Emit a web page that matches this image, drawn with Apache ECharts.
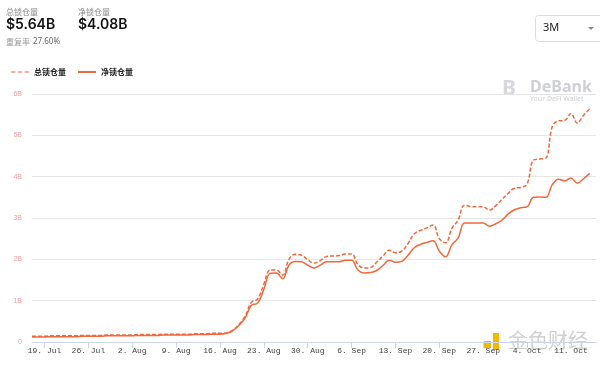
<!DOCTYPE html>
<html><head><meta charset="utf-8">
<script src="https://cdn.jsdelivr.net/npm/echarts@6/dist/echarts.min.js"></script>
<style>html,body{margin:0;padding:0;background:#fff}#c{width:600px;height:365px}</style>
</head><body><div id="c"></div>
<script>
// Dates: 17 Jul .. 15 Oct (last category is padding, no value)
var dates = ["17. Jul","18. Jul","19. Jul","20. Jul","21. Jul","22. Jul","23. Jul","24. Jul","25. Jul","26. Jul","27. Jul","28. Jul","29. Jul","30. Jul","31. Jul",
"1. Aug","2. Aug","3. Aug","4. Aug","5. Aug","6. Aug","7. Aug","8. Aug","9. Aug","10. Aug","11. Aug","12. Aug","13. Aug","14. Aug","15. Aug","16. Aug","17. Aug","18. Aug","19. Aug","20. Aug","21. Aug","22. Aug","23. Aug","24. Aug","25. Aug","26. Aug","27. Aug","28. Aug","29. Aug","30. Aug","31. Aug",
"1. Sep","2. Sep","3. Sep","4. Sep","5. Sep","6. Sep","7. Sep","8. Sep","9. Sep","10. Sep","11. Sep","12. Sep","13. Sep","14. Sep","15. Sep","16. Sep","17. Sep","18. Sep","19. Sep","20. Sep","21. Sep","22. Sep","23. Sep","24. Sep","25. Sep","26. Sep","27. Sep","28. Sep","29. Sep","30. Sep",
"1. Oct","2. Oct","3. Oct","4. Oct","5. Oct","6. Oct","7. Oct","8. Oct","9. Oct","10. Oct","11. Oct","12. Oct","13. Oct","14. Oct","15. Oct"];
// Total locked (B), dashed
var totalLocked = [0.14,0.14,0.14,0.15,0.15,0.15,0.15,0.15,0.16,0.16,0.16,0.16,0.17,0.17,0.17,
0.17,0.17,0.18,0.18,0.18,0.18,0.19,0.19,0.19,0.19,0.19,0.20,0.20,0.20,0.21,0.21,0.22,0.28,0.42,0.62,0.96,1.04,1.40,1.74,1.74,1.62,2.00,2.12,2.10,1.99,1.91,
1.97,2.07,2.08,2.09,2.13,2.13,1.88,1.79,1.80,1.93,2.08,2.22,2.16,2.20,2.38,2.62,2.70,2.76,2.83,2.50,2.40,2.75,2.95,3.31,3.28,3.27,3.27,3.19,3.30,3.45,
3.60,3.72,3.74,3.82,4.40,4.43,4.45,5.20,5.35,5.36,5.53,5.30,5.48,5.64,null];
// Net locked (B), solid
var netLocked = [0.12,0.12,0.12,0.13,0.13,0.13,0.13,0.13,0.14,0.14,0.14,0.14,0.15,0.15,0.15,
0.15,0.15,0.16,0.16,0.16,0.16,0.17,0.17,0.17,0.17,0.17,0.18,0.18,0.18,0.19,0.19,0.21,0.27,0.40,0.58,0.89,0.94,1.28,1.66,1.67,1.53,1.86,1.95,1.94,1.86,1.79,
1.86,1.94,1.94,1.94,1.98,1.98,1.74,1.67,1.68,1.73,1.85,1.98,1.93,1.95,2.10,2.28,2.36,2.41,2.45,2.20,2.06,2.35,2.52,2.88,2.88,2.88,2.88,2.80,2.86,2.95,
3.10,3.20,3.25,3.27,3.50,3.51,3.50,3.80,3.94,3.90,3.97,3.84,3.95,4.08,null];
var yTicks = ["0","1B","2B","3B","4B","5B","6B"];
var seriesNames = ["总锁仓量","净锁仓量"];

var C = '#f0683c';
var chart = echarts.init(document.getElementById('c'));
chart.setOption({
  animation:false,
  grid:{left:32,right:4,top:94,bottom:23},
  legend:{left:6,top:63,itemGap:12,itemWidth:18,itemHeight:2,
    textStyle:{fontSize:8,color:'#222',fontWeight:'bold',fontFamily:'Noto Sans CJK SC'},
    data:[{name:seriesNames[0],icon:'path://M0,0h4v1h-4zM6,0h4v1h-4zM12,0h4v1h-4z'},{name:seriesNames[1],icon:'rect'}]},
  xAxis:{type:'category',data:dates,boundaryGap:false,
    axisLine:{lineStyle:{color:'#ccd6eb'}},
    axisTick:{length:6,lineStyle:{color:'#ccd6eb'},interval:function(i){return (i-2)%7===0;}},
    axisLabel:{interval:function(i){return (i-2)%7===0;},fontSize:8,color:'#444',fontFamily:'Liberation Mono',margin:5}},
  yAxis:{type:'value',min:0,max:6,interval:1,
    axisLabel:{fontSize:7,color:'#f0a0a0',margin:10,formatter:function(v){return yTicks[Math.round(v)];}},
    splitLine:{lineStyle:{color:'#e6e6e6'}},axisLine:{show:false},axisTick:{show:false}},
  series:[
    {name:seriesNames[0],type:'line',data:totalLocked,smooth:0.4,symbol:'none',
      lineStyle:{color:C,width:1.5,type:[4,2]},itemStyle:{color:C}},
    {name:seriesNames[1],type:'line',data:netLocked,smooth:0.4,symbol:'none',
      lineStyle:{color:C,width:1.5},itemStyle:{color:C}}
  ],
  graphic:[
    {type:'text',left:6,top:8,style:{text:'总锁仓量',fontSize:8,fill:'#888',fontFamily:'Noto Sans CJK SC'}},
    {type:'text',left:6,top:18,style:{text:'$5.64B',fontSize:14,fontWeight:600,fill:'#111',fontFamily:'Inter'}},
    {type:'text',left:78,top:8,style:{text:'净锁仓量',fontSize:8,fill:'#888',fontFamily:'Noto Sans CJK SC'}},
    {type:'text',left:78,top:18,style:{text:'$4.08B',fontSize:14,fontWeight:600,fill:'#111',fontFamily:'Inter'}},
    {type:'text',left:6,top:38,style:{text:'重复率',fontSize:8,fill:'#999',fontFamily:'Noto Sans CJK SC'}},
    {type:'text',left:33,top:38,style:{text:'27.60%',fontSize:8,fill:'#666',fontFamily:'Noto Sans'}},
    {type:'rect',left:535,top:15,shape:{width:70,height:26,r:3},style:{fill:'#fff',stroke:'#ddd',lineWidth:1}},
    {type:'text',left:543,top:22,style:{text:'3M',fontSize:11,fill:'#222',fontFamily:'Noto Sans'}},
    {type:'polygon',shape:{points:[[588,27],[594,27],[591,30]]},style:{fill:'#888'}},
    {type:'text',left:530,top:79,style:{text:'DeBank',fontSize:16,fontWeight:'bold',fill:'#cfd0d4',fontFamily:'Noto Sans'}},
    {type:'text',left:530,top:95,style:{text:'Your DeFi Wallet',fontSize:7,fill:'#cfd0d4',fontFamily:'Noto Sans'}},
    {type:'text',left:502,top:79,style:{text:'B',fontSize:21,fontWeight:'bold',fill:'#d8d8dc',fontFamily:'Noto Sans'}},
    {type:'rect',left:484,top:341,shape:{width:7,height:7},style:{fill:'#f5b800'}},
    {type:'rect',left:493,top:333,shape:{width:6,height:17},style:{fill:'#f5b800'}},
    {type:'text',left:508,top:330,style:{text:'金色财经',fontSize:20,fill:'rgba(170,170,170,0.55)',fontFamily:'Noto Sans CJK SC'}}
  ]
});
</script></body></html>
